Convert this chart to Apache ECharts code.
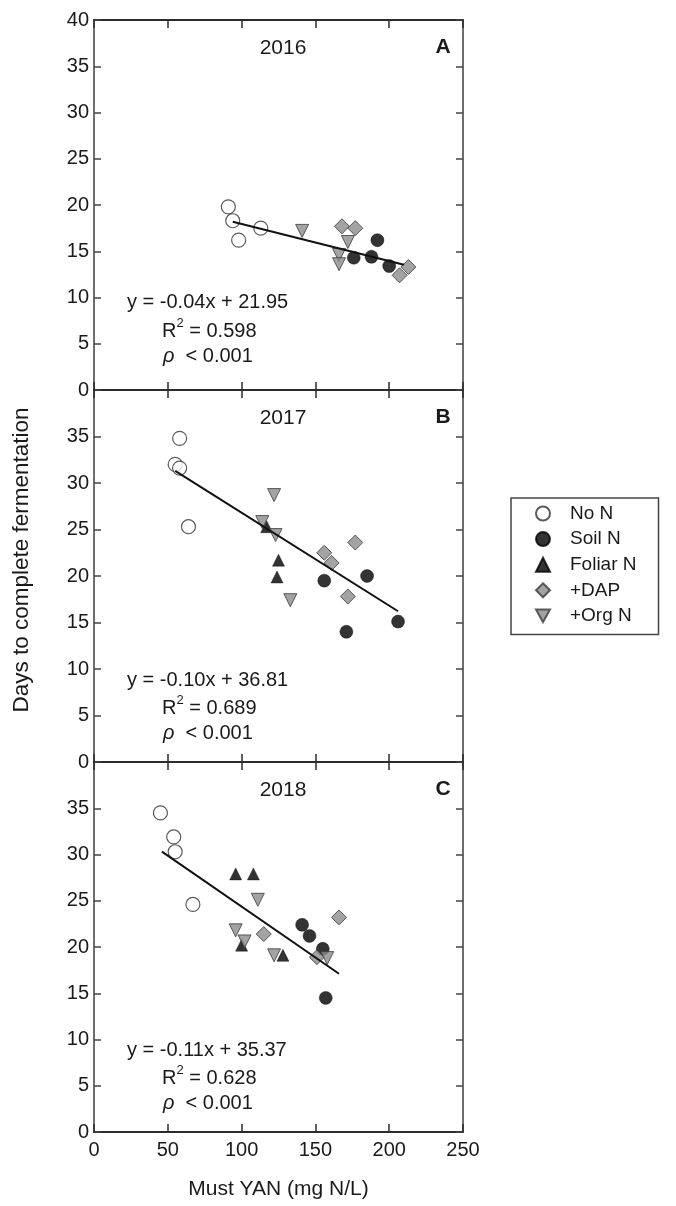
<!DOCTYPE html>
<html>
<head>
<meta charset="utf-8">
<script src="https://cdn.jsdelivr.net/npm/echarts@6/dist/echarts.min.js"></script>
<style>
html,body{margin:0;padding:0;background:#fff;}
#chart{width:676px;height:1206px;}
</style>
</head>
<body>
<div id="chart"></div>
<script>
// ---------- data ----------
const groupNames = ['No N', 'Soil N', 'Foliar N', '+DAP', '+Org N'];
const years = ['2016', '2017', '2018'];
const panelLetters = ['A', 'B', 'C'];

// 2016 (panel A)
const noN_2016    = [[91, 19.8], [94, 18.3], [98, 16.2], [113, 17.5]];
const soilN_2016  = [[176, 14.3], [188, 14.4], [192, 16.2], [200, 13.4]];
const foliarN_2016 = [];
const dap_2016    = [[168, 17.7], [177, 17.5], [207, 12.4], [213, 13.3]];
const orgN_2016   = [[141, 17.2], [172, 16.0], [166, 14.6], [166, 13.6]];

// 2017 (panel B)
const noN_2017    = [[58, 34.8], [55, 32.0], [58, 31.6], [64, 25.3]];
const soilN_2017  = [[156, 19.5], [185, 20.0], [171, 14.0], [206, 15.1]];
const foliarN_2017 = [[117, 25.3], [125, 21.7], [124, 19.9]];
const dap_2017    = [[156, 22.5], [161, 21.4], [177, 23.6], [172, 17.8]];
const orgN_2017   = [[122, 28.7], [114, 25.8], [123, 24.4], [133, 17.4]];

// 2018 (panel C)
const noN_2018    = [[45, 34.5], [54, 31.9], [55, 30.3], [67, 24.6]];
const soilN_2018  = [[141, 22.4], [146, 21.2], [155, 19.8], [157, 14.5]];
const foliarN_2018 = [[96, 27.9], [108, 27.9], [100, 20.2], [128, 19.1]];
const dap_2018    = [[115, 21.4], [166, 23.2], [151, 18.9]];
const orgN_2018   = [[111, 25.1], [96, 21.8], [102, 20.6], [122, 19.1], [158, 18.8]];

// regression fits: slope, intercept, x range of drawn line
const fitSlope = [-0.04, -0.10, -0.11];
const fitIntercept = [21.95, 36.81, 35.37];
const fitXStart = [94, 55, 46];
const fitXEnd = [210, 206, 166];
const fitR2 = ['0.598', '0.689', '0.628'];
const fitP = ['< 0.001', '< 0.001', '< 0.001'];
const eqText = ['y = -0.04x + 21.95', 'y = -0.10x + 36.81', 'y = -0.11x + 35.37'];

const xTickLabels = [0, 50, 100, 150, 200, 250];
const yTickLabels = [0, 5, 10, 15, 20, 25, 30, 35, 40];

const panelData = [
  [noN_2016, soilN_2016, foliarN_2016, dap_2016, orgN_2016],
  [noN_2017, soilN_2017, foliarN_2017, dap_2017, orgN_2017],
  [noN_2018, soilN_2018, foliarN_2018, dap_2018, orgN_2018]
];

// ---------- styles ----------
const FONT = "'Liberation Sans', Arial, Helvetica, sans-serif";
const TXT = '#1a1a1a';
const groupStyle = [
  { symbol: 'circle', symbolSize: 14, symbolRotate: 0, itemStyle: { color: '#ffffff', borderColor: '#333', borderWidth: 1.2 } },
  { symbol: 'circle', symbolSize: 13, symbolRotate: 0, itemStyle: { color: '#000000', borderColor: '#000000', borderWidth: 0.5 } },
  { symbol: 'triangle', symbolSize: 12, symbolRotate: 0, itemStyle: { color: '#000000', borderColor: '#000000', borderWidth: 0.5 } },
  { symbol: 'diamond', symbolSize: 15, symbolRotate: 0, itemStyle: { color: '#8c8c8c', borderColor: '#3a3a3a', borderWidth: 1 } },
  { symbol: 'triangle', symbolSize: 13, symbolRotate: 180, itemStyle: { color: '#8c8c8c', borderColor: '#3a3a3a', borderWidth: 1 } }
];
const legendIcons = ['circle', 'circle', 'triangle', 'diamond', 'path://M0,0 L10,0 L5,9 Z'];

const gridLeft = 94, gridWidth = 369;
const gridTops = [20, 390, 762];
const gridHeights = [370, 372, 370];

const grids = [], xAxes = [], yAxes = [], series = [], graphics = [];

for (let p = 0; p < 3; p++) {
  grids.push({ left: gridLeft, top: gridTops[p], width: gridWidth, height: gridHeights[p], show: false });
  const isLast = p === 2;
  xAxes.push({
    gridIndex: p, type: 'value', min: 0, max: 250, interval: 50, position: 'bottom',
    axisLine: { show: true, onZero: false, lineStyle: { color: '#2b2b2b', width: 2 } },
    axisTick: { show: true, inside: true, length: 8, lineStyle: { color: '#2b2b2b', width: 1.5 } },
    axisLabel: {
      show: isLast, margin: 8, fontSize: 20, color: TXT, fontFamily: FONT,
      formatter: v => (xTickLabels.indexOf(v) >= 0 ? String(v) : '')
    },
    splitLine: { show: false },
    name: isLast ? 'Must YAN (mg N/L)' : '', nameLocation: 'middle', nameGap: 47,
    nameTextStyle: { fontSize: 21, color: TXT, fontFamily: FONT }
  });
  xAxes.push({
    gridIndex: p, type: 'value', min: 0, max: 250, interval: 50, position: 'top',
    axisLine: { show: true, onZero: false, lineStyle: { color: '#2b2b2b', width: 2 } },
    axisTick: { show: true, inside: true, length: 8, lineStyle: { color: '#2b2b2b', width: 1.5 } },
    axisLabel: { show: false }, splitLine: { show: false }
  });
  yAxes.push({
    gridIndex: p, type: 'value', min: 0, max: 40, interval: 5, position: 'left',
    axisLine: { show: true, onZero: false, lineStyle: { color: '#6e6e6e', width: 2 } },
    axisTick: { show: true, inside: true, length: 7, lineStyle: { color: '#444', width: 1.5 } },
    axisLabel: {
      show: true, margin: 5, fontSize: 20, color: TXT, fontFamily: FONT,
      showMaxLabel: p === 0,
      formatter: v => (yTickLabels.indexOf(v) >= 0 ? String(v) : '')
    },
    splitLine: { show: false }
  });
  yAxes.push({
    gridIndex: p, type: 'value', min: 0, max: 40, interval: 5, position: 'right',
    axisLine: { show: true, onZero: false, lineStyle: { color: '#6e6e6e', width: 2 } },
    axisTick: { show: true, inside: true, length: 7, lineStyle: { color: '#444', width: 1.5 } },
    axisLabel: { show: false }, splitLine: { show: false }
  });

  for (let g = 0; g < 5; g++) {
    const st = groupStyle[g];
    series.push({
      name: groupNames[g], type: 'scatter',
      xAxisIndex: p * 2, yAxisIndex: p * 2,
      data: panelData[p][g],
      symbol: st.symbol, symbolSize: st.symbolSize, symbolRotate: st.symbolRotate,
      itemStyle: st.itemStyle, z: 3,
      emphasis: { disabled: true }, silent: true, animation: false
    });
  }
  const x0 = fitXStart[p], x1 = fitXEnd[p];
  series.push({
    name: 'fit' + p, type: 'line',
    xAxisIndex: p * 2, yAxisIndex: p * 2,
    data: [[x0, fitSlope[p] * x0 + fitIntercept[p]], [x1, fitSlope[p] * x1 + fitIntercept[p]]],
    symbol: 'none', lineStyle: { color: '#111', width: 2 }, z: 4,
    silent: true, animation: false
  });

  const top = gridTops[p], bottom = gridTops[p] + gridHeights[p];
  graphics.push({ type: 'text', x: 283, y: top + 28, style: { text: years[p], font: '21px ' + FONT, fill: TXT, textAlign: 'center', textVerticalAlign: 'middle' } });
  graphics.push({ type: 'text', x: 443, y: top + 27, style: { text: panelLetters[p], font: 'bold 21px ' + FONT, fill: TXT, textAlign: 'center', textVerticalAlign: 'middle' } });
  const off = p === 0 ? [88, 58, 34] : [82, 53, 29];
  graphics.push({ type: 'text', x: 127, y: bottom - off[0], style: { text: eqText[p], font: '20px ' + FONT, fill: TXT, textAlign: 'left', textVerticalAlign: 'middle' } });
  graphics.push({ type: 'text', x: 162, y: bottom - off[1] - 3, style: {
    text: '{r|R}{s|2}{r| = ' + fitR2[p] + '}', textAlign: 'left', textVerticalAlign: 'middle',
    rich: {
      r: { fontSize: 20, fontFamily: FONT, fill: TXT, lineHeight: 24, verticalAlign: 'bottom' },
      s: { fontSize: 13, fontFamily: FONT, fill: TXT, lineHeight: 24, verticalAlign: 'top' }
    }
  } });
  graphics.push({ type: 'text', x: 163, y: bottom - off[2], style: {
    text: '{i|ρ}{r|  ' + fitP[p] + '}', textAlign: 'left', textVerticalAlign: 'middle',
    rich: {
      i: { fontSize: 20, fontFamily: FONT, fontStyle: 'italic', fill: TXT },
      r: { fontSize: 20, fontFamily: FONT, fill: TXT }
    }
  } });
}

graphics.push({ type: 'text', x: 22, y: 560, rotation: Math.PI / 2, style: {
  text: 'Days to complete fermentation', font: '22.5px ' + FONT, fill: TXT, textAlign: 'center', textVerticalAlign: 'middle'
} });

const chart = echarts.init(document.getElementById('chart'), null, { renderer: 'canvas' });
chart.setOption({
  animation: false,
  backgroundColor: '#ffffff',
  grid: grids,
  xAxis: xAxes,
  yAxis: yAxes,
  series: series,
  legend: {
    data: groupNames.map((n, i) => ({ name: n, icon: legendIcons[i] })),
    orient: 'vertical',
    left: 511, top: 498,
    padding: [6, 22, 9, 24],
    itemWidth: 14, itemHeight: 14, itemGap: 6.6,
    borderColor: '#444', borderWidth: 1.5, borderRadius: 0,
    textStyle: { fontSize: 19, color: TXT, fontFamily: FONT, padding: [0, 0, 0, 15] },
    selectedMode: false
  },
  graphic: graphics
});
</script>
</body>
</html>
